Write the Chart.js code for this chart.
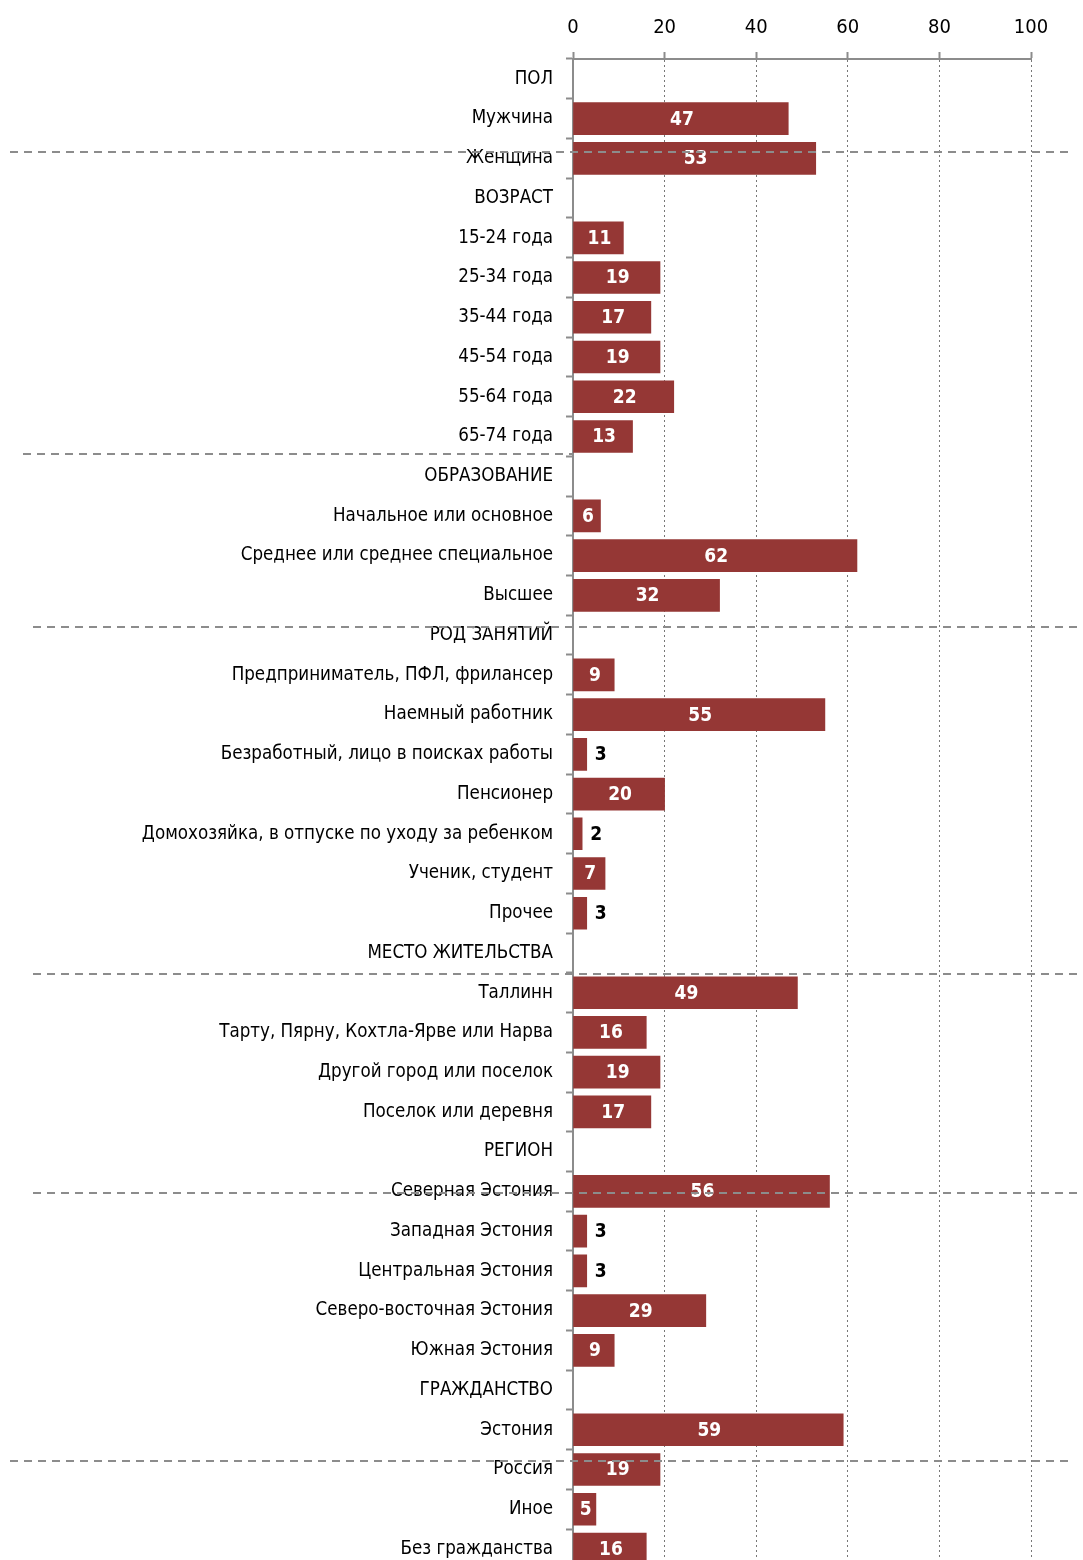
<!DOCTYPE html>
<html>
<head>
<meta charset="utf-8">
<script src="https://cdn.jsdelivr.net/npm/chart.js@4"></script>
<style>
  html, body { margin: 0; padding: 0; background: #fff; overflow: hidden; }
  #wrap { width: 1083px; height: 1593px; position: relative; }
</style>
</head>
<body>
<div id="wrap"><canvas id="chart"></canvas></div>
<script>
const labels = [
  'ПОЛ', 'Мужчина', 'Женщина',
  'ВОЗРАСТ', '15-24 года', '25-34 года', '35-44 года', '45-54 года', '55-64 года', '65-74 года',
  'ОБРАЗОВАНИЕ', 'Начальное или основное', 'Среднее или среднее специальное', 'Высшее',
  'РОД ЗАНЯТИЙ', 'Предприниматель, ПФЛ, фрилансер', 'Наемный работник', 'Безработный, лицо в поисках работы',
  'Пенсионер', 'Домохозяйка, в отпуске по уходу за ребенком', 'Ученик, студент', 'Прочее',
  'МЕСТО ЖИТЕЛЬСТВА', 'Таллинн', 'Тарту, Пярну, Кохтла-Ярве или Нарва', 'Другой город или поселок', 'Поселок или деревня',
  'РЕГИОН', 'Северная Эстония', 'Западная Эстония', 'Центральная Эстония', 'Северо-восточная Эстония', 'Южная Эстония',
  'ГРАЖДАНСТВО', 'Эстония', 'Россия', 'Иное', 'Без гражданства'
];

const values = [
  null, 47, 53,
  null, 11, 19, 17, 19, 22, 13,
  null, 6, 62, 32,
  null, 9, 55, 3, 20, 2, 7, 3,
  null, 49, 16, 19, 17,
  null, 56, 3, 3, 29, 9,
  null, 59, 19, 5, 16
];

const xTicks = [0, 20, 40, 60, 80, 100];

// dashed separator lines from the original: category position, start/end x in px
const separators = [
  { at: 1.84, x1: 10, x2: 1068 },
  { at: 9.43, x1: 23, x2: 574 },
  { at: 13.79, x1: 33, x2: 1078 },
  { at: 22.53, x1: 33, x2: 1078 },
  { at: 28.05, x1: 33, x2: 1078 },
  { at: 34.78, x1: 10, x2: 1068 }
];

const FONT = "'DejaVu Sans Condensed', 'Liberation Sans Narrow', sans-serif";
const GRAY = '#8c8c8c';

const barLabels = {
  id: 'barLabels',
  afterDatasetsDraw(chart) {
    const ctx = chart.ctx;
    const meta = chart.getDatasetMeta(0);
    ctx.save();
    ctx.font = 'bold 19px ' + FONT;
    ctx.textBaseline = 'middle';
    meta.data.forEach((bar, i) => {
      const v = values[i];
      if (v === null) return;
      if (v <= 3) {
        ctx.fillStyle = '#000';
        ctx.textAlign = 'left';
        ctx.fillText(String(v), bar.x + 8, bar.y + 1);
      } else {
        ctx.fillStyle = '#fff';
        ctx.textAlign = 'center';
        ctx.fillText(String(v), (bar.x + bar.base) / 2 + 1, bar.y + 1);
      }
    });
    ctx.restore();
  }
};

const sepLines = {
  id: 'sepLines',
  afterDraw(chart) {
    const ctx = chart.ctx;
    const y = chart.scales.y;
    ctx.save();
    ctx.strokeStyle = GRAY;
    ctx.lineWidth = 2;
    ctx.setLineDash([8, 6]);
    separators.forEach(s => {
      const py = Math.round(y.getPixelForValue(s.at));
      ctx.beginPath();
      ctx.moveTo(s.x1, py);
      ctx.lineTo(s.x2, py);
      ctx.stroke();
    });
    ctx.restore();
  }
};

const chart = new Chart(document.getElementById('chart'), {
  type: 'bar',
  data: {
    labels,
    datasets: [{
      data: values,
      backgroundColor: '#953735',
      borderWidth: 0,
      barThickness: 32
    }]
  },
  options: {
    indexAxis: 'y',
    responsive: true,
    maintainAspectRatio: false,
    animation: false,
    layout: { padding: { left: 0, right: 52, top: 0, bottom: 1 } },
    plugins: {
      legend: { display: false },
      tooltip: { enabled: false }
    },
    scales: {
      x: {
        position: 'top',
        min: 0,
        max: 100,
        afterBuildTicks: scale => { scale.ticks = xTicks.map(v => ({ value: v })); },
        afterFit: scale => { scale.height = 59; },
        ticks: {
          color: '#000',
          font: { family: FONT, size: 20 },
          padding: 12
        },
        grid: {
          color: '#777',
          lineWidth: 1,
          tickBorderDash: [],
          tickColor: GRAY,
          tickLength: 7,
          tickWidth: 2
        },
        border: { display: true, color: GRAY, width: 2, dash: [2, 3] }
      },
      y: {
        afterFit: scale => { scale.width = 573; },
        ticks: {
          color: '#000',
          font: { family: FONT, size: 18.6 },
          padding: 13,
          autoSkip: false
        },
        grid: {
          offset: true,
          drawOnChartArea: false,
          tickColor: GRAY,
          tickLength: 7,
          tickWidth: 2
        },
        border: { display: true, color: GRAY, width: 2 }
      }
    }
  },
  plugins: [barLabels, sepLines]
});
</script>
</body>
</html>
